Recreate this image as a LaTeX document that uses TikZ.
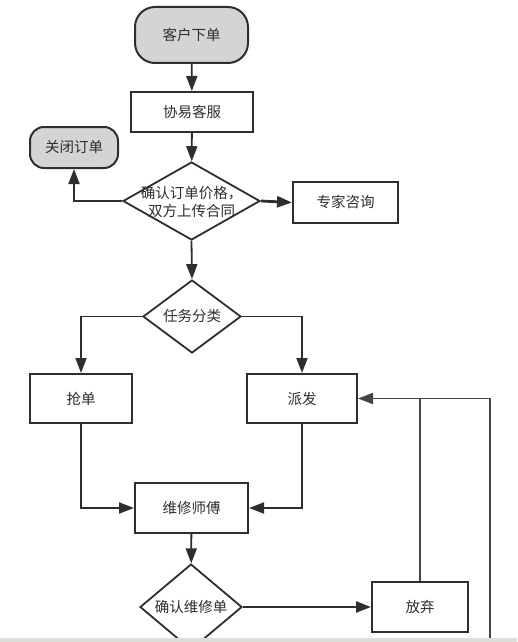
\documentclass[tikz,border=0pt]{standalone}
\usepackage{fontspec}
\setmainfont{Noto Sans CJK SC}
\usepackage{tikz}
\usetikzlibrary{arrows.meta}
\usetikzlibrary{shapes.geometric}

\definecolor{linegray}{HTML}{2E2E2E}
\definecolor{loopgray}{HTML}{444444}
\definecolor{termgray}{HTML}{D4D4D4}
\definecolor{stripgray}{HTML}{DEDED8}

\begin{document}
\begin{tikzpicture}%
	[x=1pt, y=-1pt,
	every node/.style={font=\fontsize{14.5}{18.5}\selectfont, text=linegray},
	terminal/.style={draw=linegray, line width=2pt, fill=termgray, inner sep=0pt},
	process/.style={draw=linegray, line width=2pt, fill=white, inner sep=0pt},
	decision/.style={diamond, draw=linegray, line width=1.8pt, fill=white, inner sep=0pt},
	edge/.style={draw=linegray, line width=1.8pt},
	arrow/.style={edge, -{Triangle[length=15pt, width=11pt]}},
	loopedge/.style={draw=loopgray, line width=1.8pt}]
%
%% Page
%%
\useasboundingbox (0,0) rectangle (517,642);
\fill[white] (0,0) rectangle (517,642);
%%
%% Drawing the boxes
%%
\node[terminal, rounded corners=20pt, minimum width=113pt, minimum height=56pt] (start) at (191.5,35) {客户下单};
\node[process, minimum width=122pt, minimum height=40pt] (service) at (192,112) {协易客服};
\node[decision, minimum width=137pt, minimum height=78pt] (confirm) at (191.5,201) {};
\node (confirmtext) at (191.5,202) [align=center] {确认订单价格，\\双方上传合同};
\node[process, minimum width=105pt, minimum height=41pt] (expert) at (345.5,202.5) {专家咨询};
\node[terminal, rounded corners=14pt, minimum width=88pt, minimum height=41pt] (close) at (74,147.5) {关闭订单};
\node[decision, minimum width=98pt, minimum height=73pt] (classify) at (192,316.5) {任务分类};
\node[process, minimum width=102pt, minimum height=49pt] (grab) at (81,398.5) {抢单};
\node[process, minimum width=110pt, minimum height=49pt] (dispatch) at (302,398.5) {派发};
\node[process, minimum width=113pt, minimum height=50pt] (master) at (191.5,508) {维修师傅};
\node[decision, minimum width=102pt, minimum height=78pt] (check) at (191,607) {确认维修单};
\node[process, minimum width=96pt, minimum height=50pt] (giveup) at (420,607) {放弃};
\coordinate (loop) at (490,642);
%%
%% Drawing edges
%%
\draw[arrow] (start) -- (service);
\draw[arrow] (service) -- (confirm);
\draw[arrow, line width=2.8pt] (confirm.east) -- (expert.west);
\draw[arrow] (confirm.west) -| (close.south);
\draw[arrow] (confirm.south) -- (classify.north);
\draw[arrow] (classify.west) -| (grab.north);
\draw[arrow] (classify.east) -| (dispatch.north);
\draw[arrow] (grab.south) |- (master.west);
\draw[arrow] (dispatch.south) |- (master.east);
\draw[arrow] (master) -- (check);
\draw[arrow, line width=2.4pt] (check.east) -- (giveup.west);
\draw[loopedge] (giveup.north) -- (giveup.north |- dispatch.east);
\draw[loopedge, -{Triangle[length=15pt, width=11pt]}] (loop) |- (dispatch.east);
%%
%% Bottom strip
%%
\fill[stripgray] (0,638) rectangle (517,642);
\end{tikzpicture}
\end{document}
